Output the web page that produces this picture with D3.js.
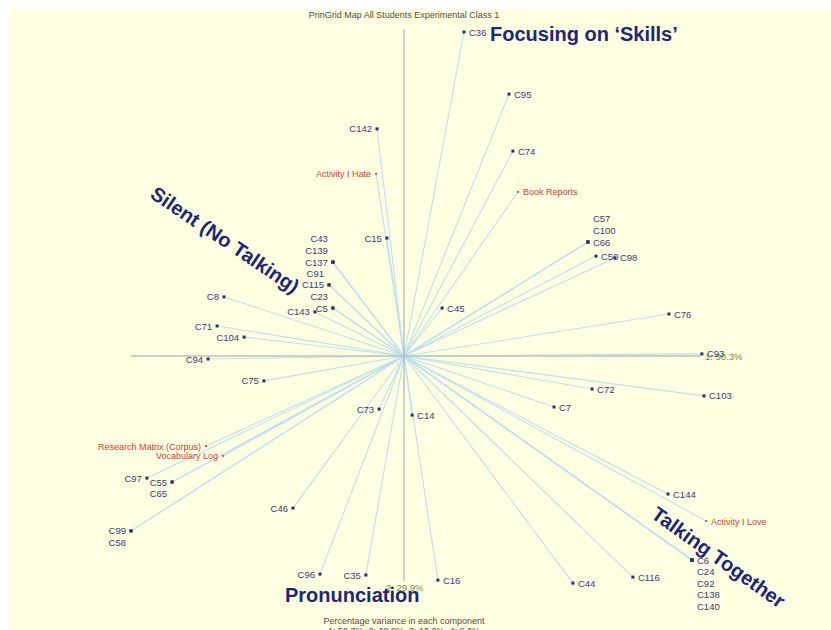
<!DOCTYPE html>
<html>
<head>
<meta charset="utf-8">
<script src="https://cdn.jsdelivr.net/npm/d3@7"></script>
<style>
  html, body { margin: 0; padding: 0; background: #fff; }
  svg { display: block; font-family: "Liberation Sans", Arial, sans-serif; }
</style>
</head>
<body>
<div id="app"></div>
<script>
;(async () => {

    // principal component coordinates (comp 2 points down)
    const names = [
        'C36', 'C95', 'C74', 'C142', 'Activity I Hate', 'Book Reports', 'C15',
        'C43', 'C139', 'C137', 'C91', 'C115', 'C23', 'C5', 'C143',
        'C8', 'C71', 'C104', 'C94', 'C75', 'C45',
        'C57', 'C100', 'C66', 'C50', 'C98', 'C76', 'C93', 'C72', 'C103', 'C7',
        'C73', 'C14', 'Research Matrix (Corpus)', 'Vocabulary Log',
        'C97', 'C55', 'C65', 'C99', 'C58', 'C46', 'C96', 'C35', 'C16', 'C44',
        'C116', 'C144', 'Activity I Love', 'C6', 'C24', 'C92', 'C138', 'C140'
    ]
    const comp1 = [
        0.200, 0.350, 0.363, -0.090, -0.093, 0.380, -0.057,
        -0.237, -0.237, -0.237, -0.250, -0.250, -0.237, -0.237, -0.297,
        -0.600, -0.623, -0.533, -0.653, -0.467, 0.127,
        0.613, 0.613, 0.613, 0.640, 0.703, 0.883, 0.993, 0.627, 1.000, 0.500,
        -0.083, 0.027, -0.660, -0.603,
        -0.857, -0.773, -0.773, -0.910, -0.910, -0.370, -0.280, -0.127, 0.113, 0.563,
        0.763, 0.880, 1.007, 0.960, 0.960, 0.960, 0.960, 0.960
    ]
    const comp2 = [
        -1.080, -0.873, -0.683, -0.757, -0.607, -0.547, -0.393,
        -0.313, -0.313, -0.313, -0.237, -0.237, -0.160, -0.160, -0.147,
        -0.197, -0.100, -0.063, 0.010, 0.083, -0.160,
        -0.380, -0.380, -0.380, -0.333, -0.327, -0.140, -0.007, 0.110, 0.133, 0.170,
        0.177, 0.197, 0.300, 0.333,
        0.407, 0.420, 0.420, 0.583, 0.583, 0.507, 0.727, 0.730, 0.747, 0.757,
        0.737, 0.460, 0.550, 0.680, 0.680, 0.680, 0.680, 0.680
    ]
    const constructs = ['Activity I Hate', 'Book Reports', 'Research Matrix (Corpus)',
        'Vocabulary Log', 'Activity I Love']

    const axisNames = ['1: 50.3%', '2: 29.9%']
    const axis1Extent = [-0.91, 0.99]
    const axis2Extent = [-1.09, 0.75]

    const themes = ['Focusing on \u2018Skills\u2019', 'Silent (No Talking)', 'Pronunciation', 'Talking Together']
    const title = 'PrinGrid Map All Students Experimental Class 1'
    const footer = ['Percentage variance in each component', '1: 50.3%,  2: 29.9%,  3: 10.0%,  4: 6.0%']

    const W = 831, H = 630
    const cx = 404, cy = 356, R = 300

    const x = d3.scaleLinear().domain([-1, 1]).range([cx - R, cx + R])
    const y = d3.scaleLinear().domain([-1, 1]).range([cy - R, cy + R])

    const points = names.map((n, i) => ({
        name: n, c1: comp1[i], c2: comp2[i], construct: constructs.includes(n)
    }))

    // stack labels of points sharing the same spot
    const groups = d3.group(points, d => d.c1 + ',' + d.c2)
    groups.forEach(arr => {
        arr.forEach((d, i) => {
            d.shift = d.c2 < 0 ? i - (arr.length - 1) : i
        })
    })

    const svg = d3.create('svg')
        .attr('width', W)
        .attr('height', H)

    svg.append('rect')
        .attr('x', 9).attr('y', 9)
        .attr('width', W - 9).attr('height', H - 9)
        .attr('fill', '#ffffe1')

    // spokes
    svg.append('g')
        .selectAll('line')
        .data(points)
        .join('line')
        .attr('x1', x(0)).attr('y1', y(0))
        .attr('x2', d => x(d.c1)).attr('y2', d => y(d.c2))
        .attr('stroke', '#bde1ef')
        .attr('stroke-width', 1.1)

    // axes
    svg.append('line')
        .attr('x1', x(axis1Extent[0])).attr('x2', x(axis1Extent[1]))
        .attr('y1', y(0)).attr('y2', y(0))
        .attr('stroke', '#b9c3bd').attr('stroke-width', 1.5)
    svg.append('line')
        .attr('x1', x(0)).attr('x2', x(0))
        .attr('y1', y(axis2Extent[0])).attr('y2', y(axis2Extent[1]))
        .attr('stroke', '#aab4b2').attr('stroke-width', 1.2)

    svg.append('text')
        .attr('x', x(axis1Extent[1]) + 4).attr('y', y(0) + 4)
        .attr('font-size', 9.5).attr('fill', '#6b8f3e')
        .text(axisNames[0])
    svg.append('text')
        .attr('x', x(0) - 18).attr('y', y(axis2Extent[1]) + 10)
        .attr('font-size', 9.5).attr('fill', '#6b8f3e')
        .text(axisNames[1])

    // markers
    svg.append('g')
        .selectAll('rect')
        .data(points)
        .join('rect')
        .attr('x', d => x(d.c1) - (d.construct ? 1 : 1.5))
        .attr('y', d => y(d.c2) - (d.construct ? 1 : 1.5))
        .attr('width', d => d.construct ? 2 : 3)
        .attr('height', d => d.construct ? 2 : 3)
        .attr('fill', d => d.construct ? '#d9534f' : '#2b2f6b')

    // labels
    svg.append('g')
        .selectAll('text')
        .data(points)
        .join('text')
        .attr('x', d => x(d.c1) + (d.c1 < 0 ? -5 : 5))
        .attr('y', d => y(d.c2) + d.shift * 11.6 + 3.5)
        .attr('text-anchor', d => d.c1 < 0 ? 'end' : 'start')
        .attr('font-size', d => d.construct ? 9 : 9.5)
        .attr('fill', d => d.construct ? '#e03a36' : '#353a80')
        .text(d => d.name)

    svg.append('text')
        .attr('x', cx).attr('y', 18)
        .attr('text-anchor', 'middle')
        .attr('font-size', 9).attr('fill', '#5b4a3c')
        .text(title)

    svg.append('g')
        .selectAll('text')
        .data(footer)
        .join('text')
        .attr('x', cx).attr('y', (d, i) => 624 + i * 10)
        .attr('text-anchor', 'middle')
        .attr('font-size', 9).attr('fill', '#5b4a3c')
        .text(d => d)

    // theme overlays
    const big = svg.append('g')
        .attr('font-size', 20).attr('font-weight', 'bold').attr('fill', '#1d2678')
    big.append('text').attr('x', 490).attr('y', 41).text(themes[0])
    big.append('text').attr('transform', 'translate(149,197) rotate(34)').text(themes[1])
    big.append('text').attr('x', 285).attr('y', 602).text(themes[2])
    big.append('text').attr('transform', 'translate(650,517) rotate(35.5)').text(themes[3])

    d3.select('#app').append(() => svg.node())

})()
</script>
</body>
</html>
